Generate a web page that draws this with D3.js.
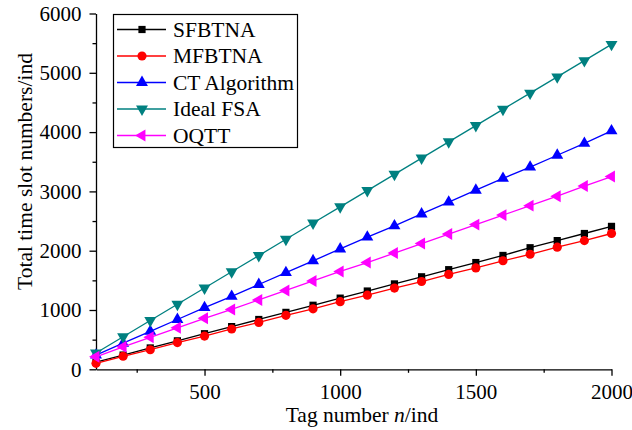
<!DOCTYPE html>
<html>
<head>
<meta charset="utf-8">
<script src="https://cdn.jsdelivr.net/npm/d3@7"></script>
<style>
  body { margin: 0; background: #fff; }
  svg { font-family: 'Liberation Serif', 'Times New Roman', serif; }
  .axis path, .axis line { stroke: #000; stroke-width: 1.3px; }
  .axis text { font-size: 21px; fill: #000; font-family: 'Liberation Serif', serif; }
</style>
</head>
<body>
<svg width="632" height="430"></svg>
<script>
// tag numbers n
const tagNumbers = [100, 200, 300, 400, 500, 600, 700, 800, 900, 1000,
  1100, 1200, 1300, 1400, 1500, 1600, 1700, 1800, 1900, 2000];

const sfbtna = [120, 240, 360, 480, 600, 720, 840, 960, 1080, 1200,
  1320, 1440, 1560, 1680, 1800, 1920, 2050, 2170, 2290, 2410];
const mfbtna = [100, 220, 330, 450, 560, 680, 790, 910, 1020, 1140,
  1250, 1370, 1480, 1600, 1710, 1830, 1940, 2060, 2170, 2290];
const ctAlgorithm = [240, 440, 640, 840, 1040, 1230, 1430, 1630, 1830, 2030,
  2230, 2420, 2620, 2820, 3020, 3220, 3410, 3610, 3810, 4020];
const idealFsa = [275, 548, 822, 1096, 1370, 1644, 1918, 2192, 2466, 2740,
  3014, 3288, 3562, 3836, 4110, 4384, 4658, 4932, 5206, 5480];
const oqtt = [210, 380, 540, 700, 860, 1010, 1170, 1330, 1490, 1650,
  1800, 1960, 2120, 2280, 2440, 2600, 2760, 2920, 3090, 3250];

const xTicks = [500, 1000, 1500, 2000];
const xMinorTicks = [250, 750, 1250, 1750];
const yTicks = [0, 1000, 2000, 3000, 4000, 5000, 6000];
const yMinorTicks = [500, 1500, 2500, 3500, 4500, 5500];

const seriesNames = ['SFBTNA', 'MFBTNA', 'CT Algorithm', 'Ideal FSA', 'OQTT'];
const seriesValues = [sfbtna, mfbtna, ctAlgorithm, idealFsa, oqtt];
const seriesColors = ['#000000', '#ff0000', '#0000ff', '#008080', '#ff00ff'];
const seriesMarkers = ['square', 'circle', 'up', 'down', 'left'];

const svg = d3.select('svg');
const plotLeft = 96, plotRight = 611.5, plotTop = 13.5, plotBottom = 369.3;

const x = d3.scaleLinear().domain([100, 2000]).range([plotLeft, plotRight]);
const y = d3.scaleLinear().domain([0, 6000]).range([plotBottom, plotTop]);

// minor ticks
svg.append('g').attr('class', 'axis')
  .attr('transform', `translate(0,${plotBottom})`)
  .call(d3.axisBottom(x).tickValues(xMinorTicks).tickSize(3.5).tickSizeOuter(0).tickFormat(''))
  .select('.domain').remove();
svg.append('g').attr('class', 'axis')
  .attr('transform', `translate(${plotLeft},0)`)
  .call(d3.axisLeft(y).tickValues(yMinorTicks).tickSize(3.5).tickSizeOuter(0).tickFormat(''))
  .select('.domain').remove();

// major axes
svg.append('g').attr('class', 'axis')
  .attr('transform', `translate(0,${plotBottom})`)
  .call(d3.axisBottom(x).tickValues(xTicks).tickSize(6.5).tickSizeOuter(0)
    .tickPadding(8).tickFormat(d3.format('d')));
svg.append('g').attr('class', 'axis')
  .attr('transform', `translate(${plotLeft},0)`)
  .call(d3.axisLeft(y).tickValues(yTicks).tickSize(6.5).tickSizeOuter(0)
    .tickPadding(8).tickFormat(d3.format('d')));

// axis titles
const xt = svg.append('text')
  .attr('x', 362).attr('y', 421.5)
  .attr('text-anchor', 'middle')
  .style('font-size', '21.5px');
xt.append('tspan').text('Tag number ');
xt.append('tspan').style('font-style', 'italic').text('n');
xt.append('tspan').text('/ind');

svg.append('text')
  .attr('transform', 'translate(32,171.5) rotate(-90)')
  .attr('text-anchor', 'middle')
  .style('font-size', '21.5px')
  .text('Total time slot numbers/ind');

function markerPath(kind) {
  if (kind === 'square') return d3.symbol(d3.symbolSquare, 52)();
  if (kind === 'circle') return d3.symbol(d3.symbolCircle, 66)();
  return d3.symbol(d3.symbolTriangle, 62)();
}
function markerRotate(kind) {
  if (kind === 'down') return 180;
  if (kind === 'left') return -90;
  return 0;
}

const line = d3.line().x((d, i) => x(tagNumbers[i])).y(d => y(d));

seriesValues.forEach((vals, k) => {
  const g = svg.append('g');
  g.append('path')
    .attr('d', line(vals))
    .attr('fill', 'none')
    .attr('stroke', seriesColors[k])
    .attr('stroke-width', 1.3);
  g.selectAll('path.m')
    .data(vals)
    .enter()
    .append('path')
    .attr('class', 'm')
    .attr('d', markerPath(seriesMarkers[k]))
    .attr('transform', (d, i) => `translate(${x(tagNumbers[i])},${y(d)}) rotate(${markerRotate(seriesMarkers[k])})`)
    .attr('fill', seriesColors[k]);
});

// legend
const legend = svg.append('g');
legend.append('rect')
  .attr('x', 113.5).attr('y', 14.5)
  .attr('width', 184).attr('height', 133)
  .attr('fill', '#fff')
  .attr('stroke', '#000')
  .attr('stroke-width', 1.2);

seriesNames.forEach((name, k) => {
  const ly = 29.5 + k * 26.5;
  legend.append('line')
    .attr('x1', 117).attr('x2', 166)
    .attr('y1', ly).attr('y2', ly)
    .attr('stroke', seriesColors[k])
    .attr('stroke-width', 1.3);
  legend.append('path')
    .attr('d', markerPath(seriesMarkers[k]))
    .attr('transform', `translate(142,${ly}) rotate(${markerRotate(seriesMarkers[k])})`)
    .attr('fill', seriesColors[k]);
  legend.append('text')
    .attr('x', 173).attr('y', ly + 7)
    .style('font-size', '21.5px')
    .text(name);
});
</script>
</body>
</html>
